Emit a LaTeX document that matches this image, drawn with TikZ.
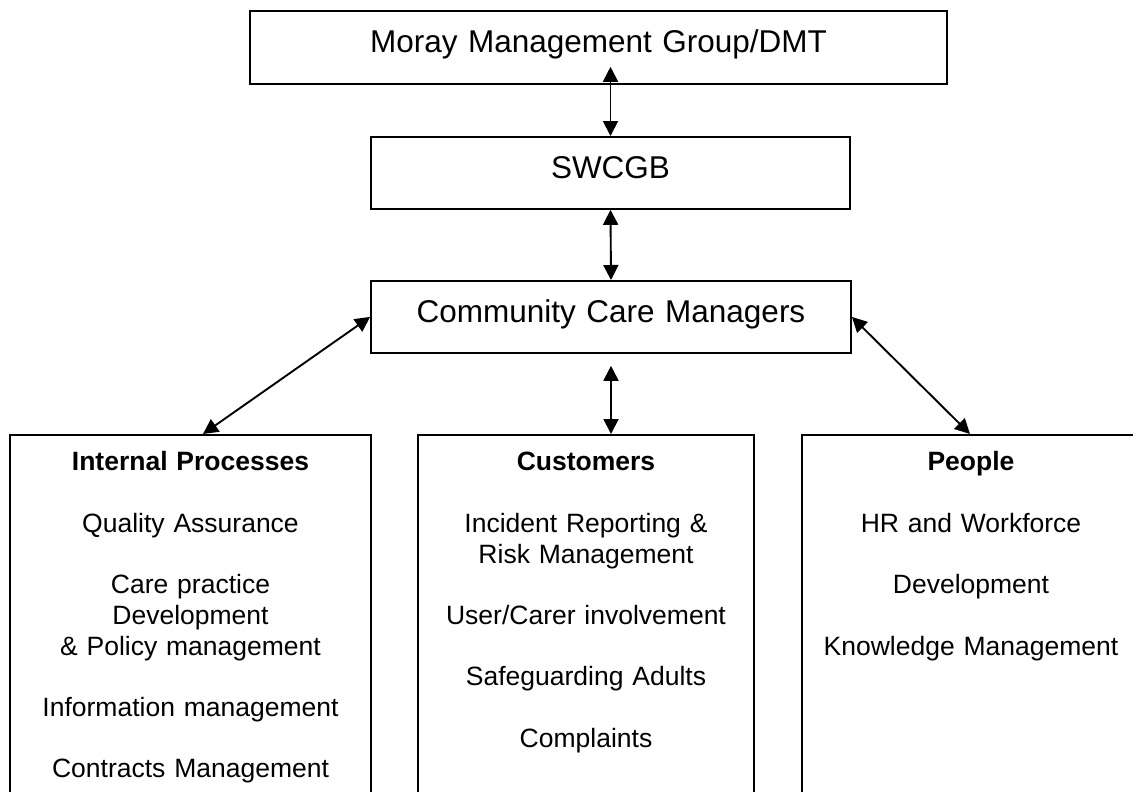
\documentclass[tikz,border=0pt]{standalone}
\usepackage{fontspec}
\setmainfont{Liberation Sans}
\usetikzlibrary{arrows.meta}

\begin{document}
\begin{tikzpicture}[x=1pt, y=-1pt,
    line width=1.8pt,
    % boxes: text anchored near the top edge, box reaches down by text depth
    headbox/.style={draw, anchor=north, inner sep=0pt, align=center,
      text width=#1, font=\fontsize{31.5}{36}\selectfont,
      text height=42pt, text depth=31pt},
    areabox/.style={draw, anchor=north, inner sep=0pt, align=center,
      text width=#1, font=\fontsize{26.5}{30.7}\selectfont,
      text height=36pt, text depth=360pt},
    link/.style={{Triangle[length=15pt,width=15pt]}-{Triangle[length=15pt,width=15pt]},
      line width=1.9pt}
  ]
  \useasboundingbox (0,0) rectangle (1133,792);
  \clip (0,0) rectangle (1133,792);

  % management levels
  \node[headbox=697pt] (mmg) at (598.5,10) {Moray Management Group/DMT};
  \node[headbox=479pt, text depth=30pt] (sw) at (610.5,136) {SWCGB};
  \node[headbox=480pt, text depth=30pt] (ccm) at (611,280) {Community Care Managers};

  % the three areas of work
  \node[areabox=361pt] (ip) at (190.5,434) {\textbf{Internal Processes}\\[30.7pt]
    Quality Assurance\\[30.7pt]
    Care practice\\ Development\\ \& Policy management\\[30.7pt]
    Information management\\[30.7pt]
    Contracts Management};
  \node[areabox=336pt] (cu) at (586,434) {\textbf{Customers}\\[30.7pt]
    Incident Reporting \&\\ Risk Management\\[30.7pt]
    User/Carer involvement\\[30.7pt]
    Safeguarding Adults\\[30.7pt]
    Complaints};
  \node[areabox=338pt] (pe) at (971,434) {\textbf{People}\\[30.7pt]
    HR and Workforce\\[30.7pt]
    Development\\[30.7pt]
    Knowledge Management};

  % two-way links
  \draw[link, shorten >=-18pt] (sw.north) -- (mmg.south -| sw.north);
  \draw[link] (sw.south) -- (ccm.north);
  \draw[link, shorten <=12pt] (ccm.south) -- (ccm.south |- cu.north);
  \draw[link] (ccm.west) -- ([xshift=12.5pt]ip.north);
  \draw[link] (ccm.east) -- ([xshift=-1pt]pe.north);
\end{tikzpicture}
\end{document}
